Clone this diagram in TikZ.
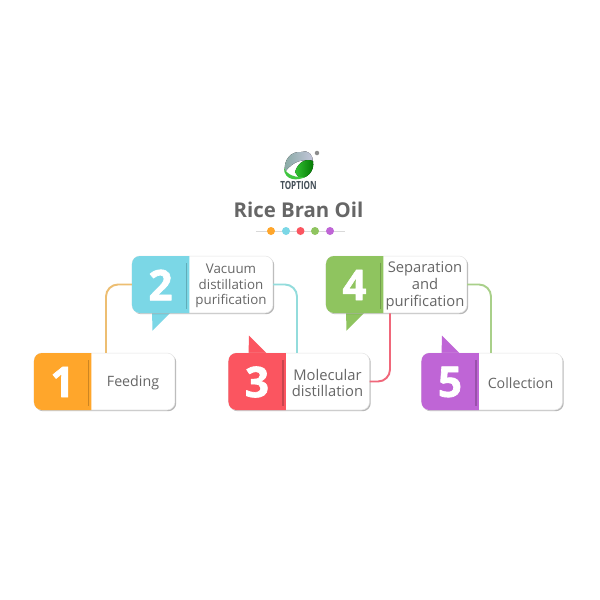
\documentclass[tikz,border=0pt]{standalone}
\usepackage{fontspec}
\setmainfont{Open Sans}
\newfontfamily\numfont[FakeBold=1.6]{Open Sans}
\usetikzlibrary{shadows}
\definecolor{txtgray}{HTML}{666666}
\definecolor{cOrange}{HTML}{FFA62B}
\definecolor{cCyan}{HTML}{7BD7E6}
\definecolor{cRed}{HTML}{FB5560}
\definecolor{cGreen}{HTML}{8FC45F}
\definecolor{cPurple}{HTML}{BF65D6}
\definecolor{lOrange}{HTML}{EDBE72}
\definecolor{lCyan}{HTML}{93DCDC}
\definecolor{lRed}{HTML}{F0677A}
\definecolor{lGreen}{HTML}{A9D08A}
\tikzset{
	cardbody/.style={draw=black!10, line width=0.3pt, fill=white, rounded corners=0.16cm, minimum width=2.82cm, minimum height=1.14cm, drop shadow={shadow xshift=0.7pt, shadow yshift=-0.7pt, fill=black, opacity=0.28}},
	cardnum/.style={text=white, font=\fontsize{24}{24}\numfont\bfseries},
	cardtxt/.style={text=txtgray, align=center},
	link/.style={line width=1.1pt, rounded corners=0.24cm},
	dotmark/.style={circle, inner sep=0pt, minimum size=0.16cm}
}
\begin{document}
\begin{tikzpicture}[x=0.02cm, y=-0.02cm, line join=round]
	\useasboundingbox (0,0) rectangle (600,600);
	\fill[white] (0,0) rectangle (600,600);
	% logo
	\fill[left color=green!55!blue!35!gray!70, right color=blue!25!gray!35] (285,172) .. controls (283,160) and (291,151) .. (301,152) .. controls (307,149) and (315,155) .. (312,163) .. controls (304,157) and (292,162) .. (285,172) -- cycle;
	\fill[left color=green!70!black!80, right color=green!45!black] (295,172) .. controls (298,162) and (306,158) .. (313,161) .. controls (315,171) and (307,179) .. (299,178) -- cycle;
	\fill[green!70!black!75] (284,168) .. controls (287,175) and (296,178) .. (305,177) .. controls (298,181) and (284,181) .. (284,168) -- cycle;
	\fill[black!45] (317,153) circle (0.045cm);
	\node (brand) at (298.5,185.5) [text=black!75!cyan, xscale=0.72, font=\fontsize{6.4}{7}\selectfont\bfseries] {TOPTION};
	% title
	\node (title) at (298.5,210) [text=txtgray, font=\fontsize{11.6}{13}\selectfont\bfseries] {Rice Bran Oil};
	\draw[black!15, line width=0.5pt] (256,231) -- (345,231);
	\foreach \i/\x/\col in {a/271/cOrange,b/286/cCyan,c/300.5/cRed,d/315/cGreen,e/330/cPurple}
		\node (dot\i) at (\x,231) [dotmark, fill=\col] {};
	% cards
	\foreach \nm/\cx/\cy/\col/\num/\fs/\ls/\tl/\txt in {
		two/202.5/284.5/cCyan/2/7.6/9.0/1/{Vacuum\\distillation\\purification},
		four/396.5/284.5/cGreen/4/8.4/9.6/1/{Separation\\and\\purification},
		three/299/381.5/cRed/3/8.4/9.6/-1/{Molecular\\distillation},
		five/492/381.5/cPurple/5/8.1/9.6/-1/{Collection},
		one/104.5/381.5/cOrange/1/8.1/9.6/0/{Feeding}}{
		\ifnum\tl=0\else
			\fill[\col] (\cx-50.5,\cy+\tl*26) -- (\cx-50,\cy+\tl*46) -- (\cx-32,\cy+\tl*28) -- (\cx-32,\cy+\tl*26) -- cycle;
		\fi
		\node (\nm) at (\cx,\cy) [cardbody] {};
		\fill[\col] (\cx-13,\cy-28.5) [rounded corners=0.16cm] -- (\cx-70.5,\cy-28.5) -- (\cx-70.5,\cy+28.5) [sharp corners] -- (\cx-13,\cy+28.5) -- cycle;
		\fill[\col!80!black] (\cx-16.7,\cy-22) rectangle (\cx-15,\cy+24);
		\node (\nm num) at (\cx-42,\cy+0.5) [cardnum] {\num};
		\node (\nm txt) at (\cx+28.5,\cy+1.5) [cardtxt, font=\fontsize{\fs}{\ls}\selectfont] {\txt};
	}
	% connectors
	\draw[link, lOrange] ([xshift=0.03cm]one.north) |- (two.west);
	\draw[link, lCyan] (two.east) -| ([xshift=-0.04cm]three.north);
	\draw[link, lRed] (three.east) -| ([xshift=-0.13cm]four.south);
	\draw[link, lGreen] (four.east) -| ([xshift=-0.02cm]five.north);
\end{tikzpicture}
\end{document}
